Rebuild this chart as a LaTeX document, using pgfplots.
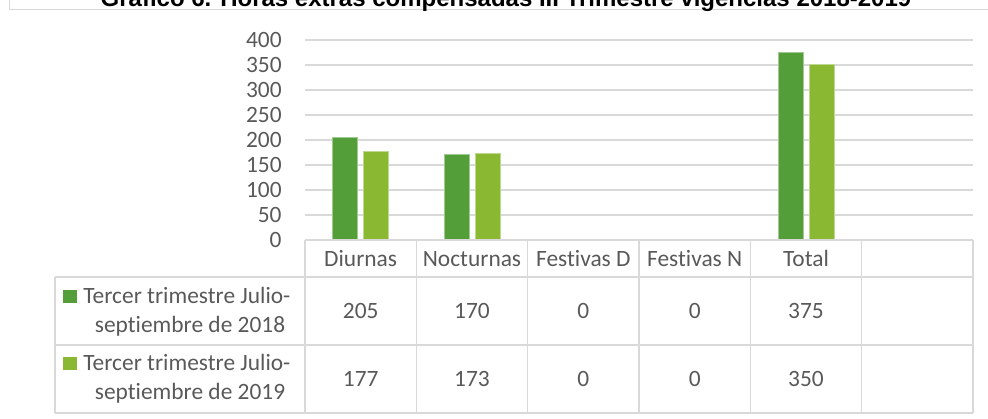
\documentclass[border=0pt]{standalone}
\usepackage{pgfplots}
\pgfplotsset{compat=1.18}
\usepackage{fontspec}
\setmainfont[RawFeature={-liga;-clig}]{Carlito}
\newfontfamily\titlefont{Liberation Sans}
\definecolor{cA}{HTML}{549E39}
\definecolor{cB}{HTML}{8AB833}
\definecolor{gridc}{HTML}{D9D9D9}
\definecolor{txt}{HTML}{595959}
\begin{document}
\begin{tikzpicture}
\begin{axis}[
  at={(152.5pt,89pt)}, anchor=south west,
  scale only axis, width=334pt, height=100pt,
  ybar=3pt, bar width=12.5pt,
  xmin=-0.5, xmax=5.5, ymin=0, ymax=400,
  ytick={0,50,...,400}, xtick=\empty,
  ymajorgrids, grid style={draw=gridc, line width=0.75pt},
  axis line style={draw=none},
  major tick length=0pt,
  /pgf/number format/assume math mode=true,
  yticklabel style={font=\fontsize{11.7}{14}\selectfont, color=txt, anchor=east, inner sep=0pt, xshift=-11.5pt},
]
\addplot[fill=cA, draw=cA!55!white, line width=0.5pt] coordinates {(0,205) (1,170) (2,0) (3,0) (4,375)};
\addplot[fill=cB, draw=cB!55!white, line width=0.5pt] coordinates {(0,177) (1,173) (2,0) (3,0) (4,350)};
\end{axis}
\begin{scope}[x=0.5pt,y=0.5pt]
  % chart frame
  \draw[gridc, line width=0.5pt] (9.5,1000) -- (9.5,408.5) -- (1100,408.5);
  % title (cut off at the top, as in the reference)
  \node[anchor=base, inner sep=0pt, font=\titlefont\bfseries\fontsize{12}{14}\selectfont, text=black] at (506,411) {Gráfico 6. Horas extras compensadas III Trimestre vigencias 2018-2019};
  % data table grid
  \begin{scope}[gridc, line width=0.75pt]
    \draw (305,178) -- (973,178);
    \draw (55,141) -- (973,141);
    \draw (55,73) -- (973,73);
    \draw (55,5) -- (973,5);
    \draw (55,141) -- (55,5);
    \foreach \xx in {305,416.33,527.67,639,750.33,861.67,973}
      \draw (\xx,178) -- (\xx,5);
  \end{scope}
  \begin{scope}[every node/.style={inner sep=0pt, text=txt, font=\fontsize{11.7}{14}\selectfont}]
    % header
    \node[anchor=base] at (360.67,152) {Diurnas};
    \node[anchor=base] at (472.00,152) {Nocturnas};
    \node[anchor=base] at (583.33,152) {Festivas D};
    \node[anchor=base] at (694.67,152) {Festivas N};
    \node[anchor=base] at (806.00,152) {Total};
    % row 1
    \fill[cA] (63,115) rectangle (77,128);
    \node[anchor=base west] at (83,115) {Tercer trimestre Julio-};
    \node[anchor=base] at (190,86) {septiembre de 2018};
    \node at (360.67,107) {205};
    \node at (472.00,107) {170};
    \node at (583.33,107) {0};
    \node at (694.67,107) {0};
    \node at (806.00,107) {375};
    % row 2
    \fill[cB] (63,48) rectangle (77,61);
    \node[anchor=base west] at (83,48) {Tercer trimestre Julio-};
    \node[anchor=base] at (190,19) {septiembre de 2019};
    \node at (360.67,39) {177};
    \node at (472.00,39) {173};
    \node at (583.33,39) {0};
    \node at (694.67,39) {0};
    \node at (806.00,39) {350};
  \end{scope}
\end{scope}
\pgfresetboundingbox
\path[use as bounding box] (0,0) rectangle (494pt,209pt);
\end{tikzpicture}
\end{document}
